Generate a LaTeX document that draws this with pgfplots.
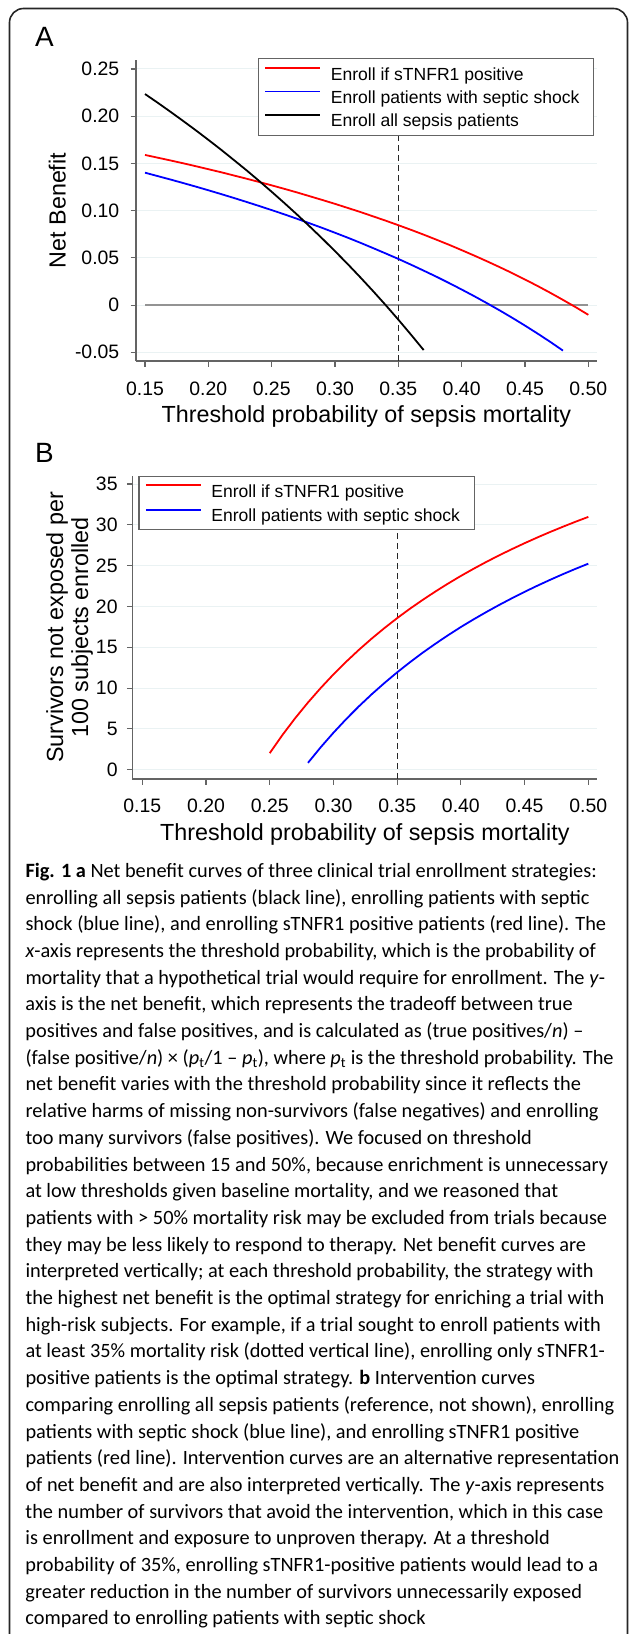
\documentclass[border=0pt]{standalone}
\usepackage{fontspec}
\setmainfont{Liberation Sans}
\newfontfamily\capfont{Carlito}
\usepackage{pgfplots}
\pgfplotsset{compat=1.18}

\definecolor{gridc}{RGB}{234,242,243}
\definecolor{spine}{RGB}{100,100,100}
\definecolor{nbred}{RGB}{255,0,0}
\definecolor{nbblue}{RGB}{0,0,255}

\pgfplotsset{
  statastyle/.style={
    scale only axis,
    axis lines=left,
    axis line style={-, spine, line width=1.1bp},
    every outer x axis line/.append style={-},
    every outer y axis line/.append style={-},
    tick align=outside,
    major tick length=5.5bp,
    tick style={spine, line width=1.1bp},
    ymajorgrids,
    grid style={gridc, line width=1bp},
    ticklabel style={font=\fontsize{19.5}{22}\selectfont, inner sep=0pt},
    xticklabel style={anchor=north, yshift=-15bp},
    xtick={0.15,0.20,0.25,0.30,0.35,0.40,0.45,0.50},
    xticklabels={0.15,0.20,0.25,0.30,0.35,0.40,0.45,0.50},
    legend image code/.code={\path (0bp,0bp) (55bp,0bp);
      \draw[##1, line width=1.8bp] (0bp,5.5bp) -- (55bp,5.5bp);},
  },
  curve/.style={line width=1.8bp},
}

\begin{document}
\begin{tikzpicture}
\useasboundingbox (0,0) rectangle (629bp,-1634bp);

% frame round both panels and the caption
\draw[line width=1.6bp, black!85, rounded corners=14bp]
  (9.5bp,-1700bp) -- (9.5bp,-8.5bp) -- (627.5bp,-8.5bp) -- (627.5bp,-1700bp);

\node[anchor=base west, inner sep=0pt, font=\fontsize{28}{30}\selectfont] at (35bp,-46.7bp) {A};
\node[anchor=base west, inner sep=0pt, font=\fontsize{28}{30}\selectfont] at (35bp,-462bp) {B};

% ---------- panel A: net benefit
\begin{axis}[statastyle,
  at={(136bp,-361bp)}, anchor=south west,
  width=460.7bp, height=301bp,
  xmin=0.14289, xmax=0.50663, ymin=-0.05921, ymax=0.25953,
  ytick={-0.05,0,0.05,0.10,0.15,0.20,0.25},
  yticklabels={-0.05,0,0.05,0.10,0.15,0.20,0.25},
  yticklabel style={anchor=east, xshift=-11bp},
  legend style={at={(axis description cs:0.2648,1.0066)}, anchor=north west,
    draw=spine, line width=1.1bp, fill=white,
    inner xsep=6bp, inner ysep=5bp, row sep=3bp, column sep=9.5bp,
    font=\fontsize{17.6}{20}\selectfont,
    nodes={inner sep=0pt, text height=16.5bp, text depth=3.8bp}},
  legend cell align=left,
]
\addplot[gray!85, line width=1.5bp, forget plot] coordinates {(0.15,0) (0.50,0)};
\addplot[black!85, line width=1.2bp, dash pattern=on 6.5bp off 3.5bp, forget plot]
  coordinates {(0.35,-0.05921) (0.35,0.25953)};
\addplot[nbred, curve] coordinates {
 (0.15,0.1590) (0.16,0.1561) (0.17,0.1532) (0.18,0.1502) (0.19,0.1471)
 (0.20,0.1439) (0.21,0.1407) (0.22,0.1373) (0.23,0.1339) (0.24,0.1304)
 (0.25,0.1268) (0.26,0.1231) (0.27,0.1193) (0.28,0.1153) (0.29,0.1113)
 (0.30,0.1072) (0.31,0.1029) (0.32,0.0986) (0.33,0.0940) (0.34,0.0894)
 (0.35,0.0846) (0.36,0.0797) (0.37,0.0746) (0.38,0.0693) (0.39,0.0639)
 (0.40,0.0582) (0.41,0.0524) (0.42,0.0464) (0.43,0.0402) (0.44,0.0338)
 (0.45,0.0271) (0.46,0.0202) (0.47,0.0130) (0.48,0.0055) (0.49,-0.0022)
 (0.50,-0.0103)};
\addlegendentry{Enroll if sTNFR1 positive}
\addplot[nbblue, curve] coordinates {
 (0.15,0.1402) (0.16,0.1366) (0.17,0.1330) (0.18,0.1293) (0.19,0.1255)
 (0.20,0.1216) (0.21,0.1176) (0.22,0.1135) (0.23,0.1093) (0.24,0.1050)
 (0.25,0.1006) (0.26,0.0961) (0.27,0.0914) (0.28,0.0866) (0.29,0.0817)
 (0.30,0.0766) (0.31,0.0714) (0.32,0.0660) (0.33,0.0604) (0.34,0.0547)
 (0.35,0.0489) (0.36,0.0428) (0.37,0.0365) (0.38,0.0301) (0.39,0.0234)
 (0.40,0.0165) (0.41,0.0094) (0.42,0.0020) (0.43,-0.0056) (0.44,-0.0135)
 (0.45,-0.0217) (0.46,-0.0302) (0.47,-0.0390) (0.48,-0.0482)};
\addlegendentry{Enroll patients with septic shock\hspace*{8.5bp}}
\addplot[black, curve] coordinates {
 (0.15,0.2235) (0.16,0.2143) (0.17,0.2048) (0.18,0.1951) (0.19,0.1852)
 (0.20,0.1750) (0.21,0.1646) (0.22,0.1538) (0.23,0.1429) (0.24,0.1316)
 (0.25,0.1200) (0.26,0.1081) (0.27,0.0959) (0.28,0.0833) (0.29,0.0704)
 (0.30,0.0571) (0.31,0.0435) (0.32,0.0294) (0.33,0.0149) (0.34,0.0000)
 (0.35,-0.0154) (0.36,-0.0313) (0.37,-0.0476)};
\addlegendentry{Enroll all sepsis patients}
\end{axis}

\node[anchor=base, rotate=90, inner sep=0pt, font=\fontsize{23.4}{26}\selectfont]
  at (65.5bp,-210.5bp) {Net Benefit};
\node[anchor=north, inner sep=0pt, font=\fontsize{23.4}{26}\selectfont]
  at (366.3bp,-405bp) {Threshold probability of sepsis mortality};

% ---------- panel B: intervention curves
\begin{axis}[statastyle,
  at={(132.3bp,-779bp)}, anchor=south west,
  width=465bp, height=303bp,
  xmin=0.14215, xmax=0.50706, ymin=-1.139, ymax=35.98,
  ytick={0,5,10,15,20,25,30,35},
  yticklabels={0,5,10,15,20,25,30,35},
  xticklabel style={yshift=1bp},
  yticklabel style={anchor=east, xshift=-9bp},
  legend style={at={(axis description cs:0.0133,1.0)}, anchor=north west,
    draw=spine, line width=1.1bp, fill=white,
    inner xsep=6bp, inner ysep=5bp, row sep=5.8bp, column sep=9.5bp,
    font=\fontsize{17.6}{20}\selectfont,
    nodes={inner sep=0pt, text height=15.7bp, text depth=2.8bp}},
  legend cell align=left,
]
\addplot[black!85, line width=1.2bp, dash pattern=on 6.5bp off 3.5bp, forget plot]
  coordinates {(0.35,-1.139) (0.35,35.98)};
\addplot[nbred, curve] coordinates {
 (0.25,2.03) (0.26,4.26) (0.27,6.32) (0.28,8.23) (0.29,10.01)
 (0.30,11.68) (0.31,13.23) (0.32,14.69) (0.33,16.06) (0.34,17.35)
 (0.35,18.57) (0.36,19.72) (0.37,20.80) (0.38,21.83) (0.39,22.81)
 (0.40,23.74) (0.41,24.62) (0.42,25.46) (0.43,26.26) (0.44,27.02)
 (0.45,27.75) (0.46,28.45) (0.47,29.12) (0.48,29.76) (0.49,30.38)
 (0.50,30.97)};
\addlegendentry{Enroll if sTNFR1 positive}
\addplot[nbblue, curve] coordinates {
 (0.28,0.84) (0.29,2.75) (0.30,4.53) (0.31,6.20) (0.32,7.77)
 (0.33,9.24) (0.34,10.62) (0.35,11.93) (0.36,13.16) (0.37,14.33)
 (0.38,15.43) (0.39,16.48) (0.40,17.48) (0.41,18.42) (0.42,19.32)
 (0.43,20.18) (0.44,21.00) (0.45,21.79) (0.46,22.54) (0.47,23.26)
 (0.48,23.95) (0.49,24.61) (0.50,25.24)};
\addlegendentry{Enroll patients with septic shock\hspace*{9bp}}
\end{axis}

\node[anchor=base, rotate=90, inner sep=0pt, font=\fontsize{23.4}{26}\selectfont]
  at (63bp,-627.5bp) {Survivors not exposed per};
\node[anchor=base, rotate=90, inner sep=0pt, font=\fontsize{23.4}{26}\selectfont]
  at (88bp,-627.5bp) {100 subjects enrolled};
\node[anchor=north, inner sep=0pt, font=\fontsize{23.4}{26}\selectfont]
  at (364.8bp,-823.3bp) {Threshold probability of sepsis mortality};

% ---------- caption
\node[anchor=base west, inner sep=0pt] at (25.3bp,-877.3bp) {\parbox[t]{600bp}{%
\capfont\fontsize{20.4}{26.7bp}\selectfont\raggedright
\textbf{Fig. 1 a} Net benefit curves of three clinical trial enrollment strategies:\\
enrolling all sepsis patients (black line), enrolling patients with septic\\
shock (blue line), and enrolling sTNFR1 positive patients (red line). The\\
\textit{x}-axis represents the threshold probability, which is the probability of\\
mortality that a hypothetical trial would require for enrollment. The \textit{y}-\\
axis is the net benefit, which represents the tradeoff between true\\
positives and false positives, and is calculated as (true positives/\textit{n}) –\\
(false positive/\textit{n}) × (\textit{p}\textsubscript{t}/1 – \textit{p}\textsubscript{t}), where \textit{p}\textsubscript{t} is the threshold probability. The\\
net benefit varies with the threshold probability since it reflects the\\
relative harms of missing non-survivors (false negatives) and enrolling\\
too many survivors (false positives). We focused on threshold\\
probabilities between 15 and 50\%, because enrichment is unnecessary\\
at low thresholds given baseline mortality, and we reasoned that\\
patients with > 50\% mortality risk may be excluded from trials because\\
they may be less likely to respond to therapy. Net benefit curves are\\
interpreted vertically; at each threshold probability, the strategy with\\
the highest net benefit is the optimal strategy for enriching a trial with\\
high-risk subjects. For example, if a trial sought to enroll patients with\\
at least 35\% mortality risk (dotted vertical line), enrolling only sTNFR1-\\
positive patients is the optimal strategy. \textbf{b} Intervention curves\\
comparing enrolling all sepsis patients (reference, not shown), enrolling\\
patients with septic shock (blue line), and enrolling sTNFR1 positive\\
patients (red line). Intervention curves are an alternative representation\\
of net benefit and are also interpreted vertically. The \textit{y}-axis represents\\
the number of survivors that avoid the intervention, which in this case\\
is enrollment and exposure to unproven therapy. At a threshold\\
probability of 35\%, enrolling sTNFR1-positive patients would lead to a\\
greater reduction in the number of survivors unnecessarily exposed\\
compared to enrolling patients with septic shock}};
\end{tikzpicture}
\end{document}
